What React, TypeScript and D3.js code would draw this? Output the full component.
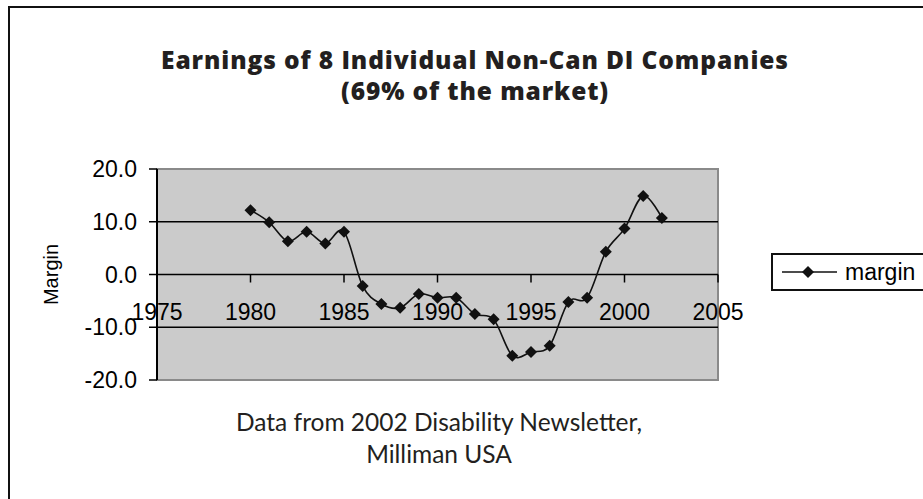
import React from 'react';
import * as d3 from 'd3';

const years = [1980, 1981, 1982, 1983, 1984, 1985, 1986, 1987, 1988, 1989, 1990, 1991,
  1992, 1993, 1994, 1995, 1996, 1997, 1998, 1999, 2000, 2001, 2002];
const margin = [12.2, 9.9, 6.3, 8.1, 5.9, 8.1, -2.2, -5.6, -6.3, -3.7, -4.4, -4.4,
  -7.5, -8.5, -15.4, -14.7, -13.5, -5.2, -4.4, 4.3, 8.7, 14.9, 10.7];
const xTicks = [1975, 1980, 1985, 1990, 1995, 2000, 2005];
const yTicks = [-20, -10, 0, 10, 20];
const titleLines = ['Earnings of 8 Individual Non-Can DI Companies', '(69% of the market)'];
const noteLines = ['Data from 2002 Disability Newsletter,', 'Milliman USA'];

const W = 923;
const H = 499;

const App: React.FC = () => {
  const plot = { left: 157, right: 718, top: 169, bottom: 380 };
  const x = d3.scaleLinear().domain([1975, 2005]).range([plot.left, plot.right]);
  const y = d3.scaleLinear().domain([-20, 20]).range([plot.bottom, plot.top]);

  const points = years.map((yr, i) => ({ yr, v: margin[i] }));
  const line = d3.line<{ yr: number; v: number }>()
    .x(d => x(d.yr))
    .y(d => y(d.v))
    .curve(d3.curveCardinal.tension(0));
  const marker = d3.symbol().type(d3.symbolSquare).size(72)() || '';
  // excel style labels use a plain hyphen, not the unicode minus
  const fmt = (v: number) => d3.format('.1f')(v).replace('\u2212', '-');
  const axisFont = '"Liberation Sans", Arial, sans-serif';
  const titleFont = '"Open Sans", Lato, sans-serif';
  const noteFont = 'Lato, "Open Sans", sans-serif';

  return (
    <svg width={W} height={H} style={{ position: 'absolute', left: 0, top: 0, background: '#fff' }}>
      {/* outer chart frame (runs off the right/bottom edge) */}
      <rect x={9} y={7} width={W + 20} height={H + 20} fill="#fff" stroke="#111" strokeWidth={2} />

      {titleLines.map((t, i) => (
        <text key={t} x={475} y={69 + i * 31} textAnchor="middle" fontFamily={titleFont}
          fontWeight={800} fontSize={24.5} letterSpacing={0.9} fill="#231f20">{t}</text>
      ))}

      {/* plot area */}
      <rect x={plot.left} y={plot.top} width={plot.right - plot.left} height={plot.bottom - plot.top}
        fill="#cbcbcb" stroke="#8a8a8a" strokeWidth={2} />
      {yTicks.filter(t => t !== -20 && t !== 20).map(t => (
        <line key={t} x1={plot.left} x2={plot.right} y1={y(t)} y2={y(t)} stroke="#000" strokeWidth={1.5} />
      ))}
      <line x1={plot.left} x2={plot.left} y1={plot.top} y2={plot.bottom} stroke="#000" strokeWidth={2} />

      {/* y axis */}
      {yTicks.map(t => (
        <g key={t}>
          <line x1={plot.left - 8} x2={plot.left} y1={y(t)} y2={y(t)} stroke="#000" strokeWidth={1.5} />
          <text x={137} y={y(t)} dy="0.35em" textAnchor="end" fontFamily={axisFont} fontSize={23} fill="#000">
            {fmt(t)}
          </text>
        </g>
      ))}
      <text transform={`translate(58,${y(0)}) rotate(-90)`} textAnchor="middle" fontFamily={axisFont}
        fontSize={20} fill="#000">Margin</text>

      {/* x axis crosses at 0 */}
      {xTicks.map(t => (
        <g key={t}>
          <line x1={x(t)} x2={x(t)} y1={y(0)} y2={y(0) + 8} stroke="#000" strokeWidth={1.5} />
          <text x={x(t)} y={320} textAnchor="middle" fontFamily={axisFont} fontSize={23} fill="#000">{t}</text>
        </g>
      ))}

      <path d={line(points) || ''} fill="none" stroke="#111" strokeWidth={1.6} />
      {points.map(p => (
        <path key={p.yr} d={marker} transform={`translate(${x(p.yr)},${y(p.v)}) rotate(45)`} fill="#111" />
      ))}

      {noteLines.map((t, i) => (
        <text key={t} x={439} y={431 + i * 32} textAnchor="middle" fontFamily={noteFont}
          fontSize={24.5} fill="#231f20">{t}</text>
      ))}

      {/* legend */}
      <rect x={772} y={254} width={200} height={36} fill="#fff" stroke="#111" strokeWidth={2} />
      <line x1={782} x2={837} y1={272} y2={272} stroke="#111" strokeWidth={1.6} />
      <path d={marker} transform="translate(808,272) rotate(45)" fill="#111" />
      <text x={845} y={272} dy="0.35em" fontFamily={axisFont} fontSize={23} fill="#000">margin</text>
    </svg>
  );
};

export default App;
